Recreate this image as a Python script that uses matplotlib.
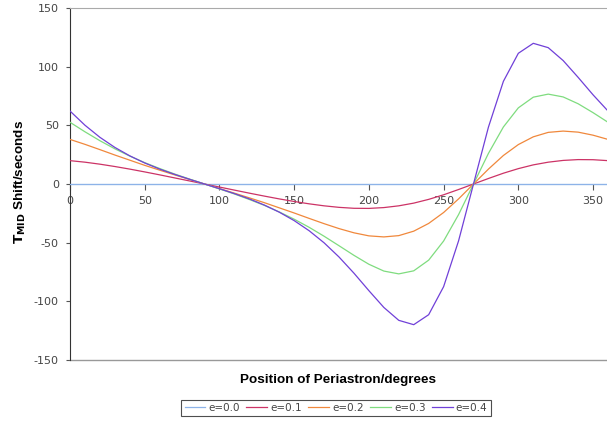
import numpy as np
import matplotlib.pyplot as plt

plt.rcParams['axes.unicode_minus'] = False

# Position of periastron (degrees)
omega = list(range(0, 361, 10))

# T_MID shift (seconds), one list per eccentricity
e00 = [0.0] * 37
e01 = [19.9, 18.6, 16.9, 14.9, 12.7, 10.3, 7.8, 5.2, 2.6, 0.0,
       -2.6, -5.2, -7.8, -10.3, -12.7, -14.9, -16.9, -18.6, -19.9,
       -20.7, -20.8, -20.1, -18.6, -16.3, -13.1, -9.2, -4.7, 0.0,
       4.7, 9.2, 13.1, 16.3, 18.6, 20.1, 20.8, 20.7, 19.9]
e02 = [38.0, 33.8, 29.3, 24.7, 20.3, 15.9, 11.8, 7.8, 3.9, 0.0,
       -3.9, -7.8, -11.8, -15.9, -20.3, -24.7, -29.3, -33.8, -38.0,
       -41.6, -44.2, -45.1, -44.0, -40.2, -33.6, -24.3, -12.7, 0.0,
       12.7, 24.3, 33.6, 40.2, 44.0, 45.1, 44.2, 41.6, 38.0]
e03 = [52.6, 44.5, 36.9, 30.0, 23.8, 18.2, 13.2, 8.5, 4.2, 0.0,
       -4.2, -8.5, -13.2, -18.2, -23.8, -30.0, -36.9, -44.5, -52.6,
       -60.8, -68.4, -74.2, -76.6, -74.0, -64.9, -48.6, -26.1, 0.0,
       26.1, 48.6, 64.9, 74.0, 76.6, 74.2, 68.4, 60.8, 52.6]
e04 = [62.2, 50.1, 39.8, 31.2, 24.0, 17.9, 12.7, 8.2, 4.0, 0.0,
       -4.0, -8.2, -12.7, -17.9, -24.0, -31.2, -39.8, -50.1, -62.2,
       -76.0, -90.9, -105.2, -116.2, -119.9, -111.4, -87.5, -48.5, 0.0,
       48.5, 87.5, 111.4, 119.9, 116.2, 105.2, 90.9, 76.0, 62.2]

labels = ['e=0.0', 'e=0.1', 'e=0.2', 'e=0.3', 'e=0.4']
colors = ['#8db3e8', '#cc3366', '#f0883c', '#7fdc7f', '#7040d8']

fig = plt.figure(figsize=(6.07, 4.21), dpi=100)
ax = fig.add_axes([70 / 607, 1 - 360 / 421, 538 / 607, 352 / 421])

for ys, lab, col in zip([e00, e01, e02, e03, e04], labels, colors):
    ax.plot(omega, ys, color=col, lw=0.9, label=lab, zorder=3)

ax.set_xlim(0, 360)
ax.set_ylim(-150, 150)
ax.set_xticks(np.arange(0, 361, 50))
ax.set_yticks(np.arange(-150, 151, 50))

# x axis crosses at zero, like the spreadsheet chart
ax.spines['bottom'].set_position(('data', 0))
ax.spines['bottom'].set_color('#8db3e8')
ax.spines['right'].set_visible(False)
ax.spines['top'].set_color('#aaaaaa')
ax.spines['left'].set_color('#333333')
ax.axhline(-150, color='#999999', lw=1.0, clip_on=False)

ax.tick_params(axis='x', direction='out', length=4, width=0.8, color='#555555',
               labelsize=8, labelcolor='#444444', pad=5)
ax.tick_params(axis='y', direction='out', length=3, width=0.8, color='#555555',
               labelsize=8, labelcolor='#444444', pad=5)

fig.text(20 / 607, 1 - 182 / 421, r'$\mathbf{T_{MID}}$ Shift/seconds', rotation=90,
         ha='center', va='center', fontsize=9.7, fontweight='bold',
         family='Liberation Sans')
fig.text(338 / 607, 1 - 380 / 421, 'Position of Periastron/degrees', ha='center',
         va='center', fontsize=9.7, fontweight='bold', family='Liberation Sans')

leg = fig.legend(loc='center', bbox_to_anchor=(336 / 607, 1 - 408 / 421), ncol=5,
                 fontsize=7.5, frameon=True, fancybox=False, handlelength=2.0,
                 handletextpad=0.3, columnspacing=0.6, borderpad=0.3,
                 labelcolor='#444444')
leg.get_frame().set_edgecolor('#222222')
leg.get_frame().set_linewidth(0.8)

plt.savefig('out.png', dpi=100)
